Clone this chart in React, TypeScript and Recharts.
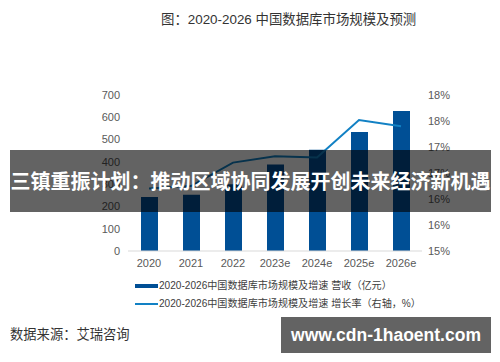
import * as React from "react";
import { ComposedChart, Bar, Line, XAxis, YAxis } from "recharts";

// categories + series (revenue in 亿元, growth in %)
const YEARS = ["2020", "2021", "2022", "2023e", "2024e", "2025e", "2026e"];
const REVENUE = [242, 252, 300, 388, 454, 534, 628];
const GROWTH = [16.2, 16.25, 16.7, 16.82, 16.8, 17.52, 17.4];

const LEFT_TICKS = [0, 100, 200, 300, 400, 500, 600, 700];
const RIGHT_TICKS = [15, 15.5, 16, 16.5, 17, 17.5, 18];

const TITLE = "图：2020-2026 中国数据库市场规模及预测";
const LEGEND_BAR = "2020-2026中国数据库市场规模及增速 营收（亿元）";
const LEGEND_LINE = "2020-2026中国数据库市场规模及增速 增长率（右轴，%）";
const SOURCE = "数据来源：艾瑞咨询";
const BANNER = "三镇重振计划：推动区域协同发展开创未来经济新机遇";
const WATERMARK = "www.cdn-1haoent.com";

const BAR_BLUE = "#004f95";
const LINE_BLUE = "#1281c4";
const TICK_GRAY = "#595959";
const FONT = "'Liberation Sans', 'Noto Sans CJK SC', sans-serif";

export default function App() {
  const data = YEARS.map((y, i) => ({ year: y, revenue: REVENUE[i], growth: GROWTH[i] }));
  const tick = { fontSize: 11, fill: TICK_GRAY, fontFamily: FONT };

  return (
    <div
      style={{
        position: "absolute",
        left: 0,
        top: 0,
        width: 500,
        height: 362,
        background: "#fff",
        fontFamily: FONT,
        overflow: "hidden",
      }}
    >
      <div
        style={{
          position: "absolute",
          left: 161,
          top: 11,
          fontSize: 13.4,
          color: "#333",
          whiteSpace: "nowrap",
          lineHeight: "18px",
        }}
      >
        {TITLE}
      </div>

      <ComposedChart
        width={500}
        height={362}
        data={data}
        margin={{ top: 95, right: 28, bottom: 91, left: 88 }}
        style={{ position: "absolute", left: 0, top: 0 }}
      >
        <XAxis
          dataKey="year"
          height={20}
          interval={0}
          tickLine={false}
          axisLine={{ stroke: "#d9d9d9" }}
          tick={tick}
        />
        <YAxis
          yAxisId="left"
          width={40}
          domain={[0, 700]}
          ticks={LEFT_TICKS}
          axisLine={false}
          tickLine={false}
          tick={tick}
        />
        <YAxis
          yAxisId="right"
          orientation="right"
          width={50}
          domain={[15, 18]}
          ticks={RIGHT_TICKS}
          axisLine={false}
          tickLine={false}
          tickSize={4}
          tick={tick}
          tickFormatter={(v: number) => `${Math.round(v)}%`}
        />
        <Bar yAxisId="left" dataKey="revenue" fill={BAR_BLUE} barSize={17} isAnimationActive={false} />
        <Line
          yAxisId="right"
          type="linear"
          dataKey="growth"
          stroke={LINE_BLUE}
          strokeWidth={2}
          dot={false}
          isAnimationActive={false}
        />
      </ComposedChart>

      {/* legend */}
      <div style={{ position: "absolute", left: 135, top: 279, fontSize: 10.1, color: "#404040", lineHeight: "14px" }}>
        <div style={{ display: "flex", alignItems: "center", height: 14 }}>
          <span style={{ display: "inline-block", width: 23, height: 4, background: BAR_BLUE, marginRight: 1 }} />
          <span style={{ whiteSpace: "nowrap" }}>{LEGEND_BAR}</span>
        </div>
        <div style={{ display: "flex", alignItems: "center", height: 14, marginTop: 4 }}>
          <span style={{ display: "inline-block", width: 23, height: 2, background: LINE_BLUE, marginRight: 1 }} />
          <span style={{ whiteSpace: "nowrap" }}>{LEGEND_LINE}</span>
        </div>
      </div>

      <div style={{ position: "absolute", left: 10, top: 326, fontSize: 13.3, color: "#333", lineHeight: "18px" }}>
        {SOURCE}
      </div>

      {/* overlay banner */}
      <div
        style={{
          position: "absolute",
          left: 10,
          top: 150,
          width: 481,
          height: 62,
          background: "rgba(0,0,0,0.61)",
          color: "#fff",
          fontWeight: 700,
          fontSize: 20,
          lineHeight: "62px",
          textAlign: "center",
          whiteSpace: "nowrap",
          fontFamily: "'Noto Sans CJK SC', sans-serif",
        }}
      >
        {BANNER}
      </div>

      {/* watermark */}
      <div
        style={{
          position: "absolute",
          left: 281,
          top: 317,
          width: 210,
          height: 36,
          background: "#636363",
          color: "#fff",
          fontWeight: 700,
          fontSize: 17.5,
          lineHeight: "36px",
          textAlign: "center",
          whiteSpace: "nowrap",
        }}
      >
        {WATERMARK}
      </div>
    </div>
  );
}
